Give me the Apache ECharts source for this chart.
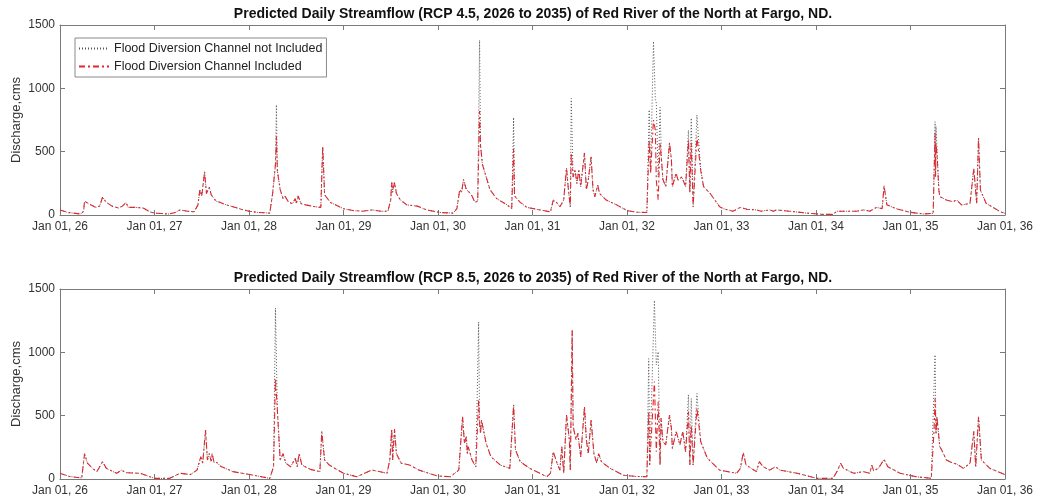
<!DOCTYPE html>
<html>
<head>
<meta charset="utf-8">
<title>Predicted Daily Streamflow</title>
<script src="https://cdn.jsdelivr.net/npm/echarts@6/dist/echarts.min.js"></script>
<style>
  html, body { margin: 0; padding: 0; background: #fff; }
  #chart { width: 1040px; height: 501px; }
</style>
</head>
<body>
<div id="chart"></div>
<script>
// values (decimal year, discharge in cms)
const years45 = [
  2026.00, 2026.08, 2026.22, 2026.25, 2026.26, 2026.30, 2026.38, 2026.42, 2026.45, 2026.49,
  2026.55, 2026.62, 2026.66, 2026.70, 2026.72, 2026.80, 2026.88, 2026.95, 2027.00, 2027.15,
  2027.22, 2027.27, 2027.35, 2027.42, 2027.46, 2027.48, 2027.50, 2027.53, 2027.55, 2027.58,
  2027.60, 2027.63, 2027.65, 2027.69, 2027.76, 2027.83, 2027.92, 2028.00, 2028.10, 2028.22,
  2028.25, 2028.28, 2028.29, 2028.30, 2028.33, 2028.36, 2028.38, 2028.42, 2028.46, 2028.49,
  2028.50, 2028.52, 2028.55, 2028.60, 2028.70, 2028.76, 2028.78, 2028.80, 2028.86, 2028.93,
  2029.00, 2029.10, 2029.20, 2029.30, 2029.40, 2029.47, 2029.50, 2029.51, 2029.52, 2029.54,
  2029.56, 2029.60, 2029.67, 2029.78, 2029.88, 2030.02, 2030.16, 2030.20, 2030.23, 2030.25,
  2030.27, 2030.30, 2030.33, 2030.36, 2030.39, 2030.42, 2030.44, 2030.45, 2030.47, 2030.51,
  2030.55, 2030.62, 2030.73, 2030.78, 2030.80, 2030.81, 2030.87, 2030.94, 2031.08, 2031.19,
  2031.22, 2031.26, 2031.29, 2031.33, 2031.36, 2031.38, 2031.40, 2031.41, 2031.43, 2031.45,
  2031.47, 2031.49, 2031.51, 2031.55, 2031.57, 2031.59, 2031.62, 2031.64, 2031.66, 2031.69,
  2031.71, 2031.78, 2031.89, 2032.00, 2032.10, 2032.21, 2032.225, 2032.235, 2032.25, 2032.28,
  2032.30, 2032.31, 2032.33, 2032.35, 2032.365, 2032.38, 2032.41, 2032.45, 2032.47, 2032.48,
  2032.52, 2032.54, 2032.58, 2032.62, 2032.65, 2032.665, 2032.68, 2032.70, 2032.74, 2032.78,
  2032.81, 2032.88, 2032.98, 2033.02, 2033.12, 2033.20, 2033.27, 2033.37, 2033.42, 2033.51,
  2033.55, 2033.58, 2033.72, 2033.90, 2034.07, 2034.18, 2034.22, 2034.35, 2034.43, 2034.50,
  2034.57, 2034.64, 2034.70, 2034.72, 2034.75, 2034.85, 2034.99, 2035.14, 2035.24, 2035.26,
  2035.265, 2035.27, 2035.28, 2035.30, 2035.31, 2035.38, 2035.45, 2035.49, 2035.54, 2035.63,
  2035.67, 2035.70, 2035.72, 2035.74, 2035.80, 2035.95, 2036.00
];
const included45 = [
  40, 20, 8, 30, 110, 90, 60, 70, 140, 100,
  70, 55, 70, 100, 60, 60, 55, 25, 15, 8,
  20, 40, 30, 25, 80, 200, 150, 340, 170, 220,
  160, 130, 110, 100, 80, 65, 45, 30, 20, 15,
  170, 400, 620, 350, 200, 130, 150, 100, 90, 130,
  90, 150, 90, 80, 65, 60, 540, 160, 100, 75,
  50, 35, 30, 40, 30, 30, 120, 260, 180, 260,
  170, 120, 80, 70, 40, 20, 15, 50, 200, 180,
  280, 200, 180, 150, 100, 110, 820, 550, 400, 300,
  200, 130, 80, 50, 520, 150, 100, 60, 40, 25,
  118, 95, 65, 118, 370, 200, 65, 490, 300, 355,
  250, 355, 225, 490, 200, 275, 460, 200, 145, 235,
  170, 118, 80, 35, 22, 20, 30, 590, 330, 750,
  670, 275, 120, 570, 435, 280, 225, 570, 435, 225,
  330, 275, 300, 225, 590, 175, 570, 65, 620, 355,
  225, 170, 65, 50, 30, 60, 45, 40, 30, 40,
  30, 40, 30, 15, 5, 5, 30, 30, 30, 40,
  30, 60, 50, 230, 80, 50, 22, 8, 13, 645,
  300, 560, 487, 197, 145, 118, 105, 118, 79, 92,
  368, 92, 605, 197, 92, 26, 13
];
// channel not included: same as above except at these flood peaks
const peakYears45 = [2028.29, 2030.44, 2030.80, 2031.41, 2032.235, 2032.28, 2032.30, 2032.31, 2032.33, 2032.35, 2032.65, 2032.68, 2032.74, 2035.26, 2035.27, 2035.28];
const peakNotIncluded45 = [870, 1380, 770, 920, 830, 1370, 910, 885, 300, 850, 670, 765, 790, 737, 700, 710];

const years85 = [
  2026.00, 2026.10, 2026.23, 2026.26, 2026.29, 2026.35, 2026.39, 2026.42, 2026.45, 2026.49,
  2026.60, 2026.65, 2026.70, 2026.85, 2027.00, 2027.16, 2027.27, 2027.38, 2027.45, 2027.49,
  2027.51, 2027.54, 2027.56, 2027.58, 2027.60, 2027.61, 2027.63, 2027.66, 2027.70, 2027.83,
  2028.01, 2028.22, 2028.26, 2028.28, 2028.30, 2028.33, 2028.36, 2028.39, 2028.44, 2028.49,
  2028.51, 2028.53, 2028.56, 2028.65, 2028.75, 2028.77, 2028.80, 2028.85, 2029.00, 2029.14,
  2029.30, 2029.46, 2029.49, 2029.51, 2029.52, 2029.54, 2029.56, 2029.61, 2029.70, 2029.80,
  2029.99, 2030.13, 2030.22, 2030.26, 2030.28, 2030.30, 2030.31, 2030.32, 2030.36, 2030.40,
  2030.43, 2030.44, 2030.45, 2030.46, 2030.51, 2030.56, 2030.66, 2030.76, 2030.80, 2030.82,
  2030.87, 2030.97, 2031.08, 2031.15, 2031.19, 2031.22, 2031.26, 2031.29, 2031.31, 2031.33,
  2031.36, 2031.39, 2031.40, 2031.42, 2031.43, 2031.46, 2031.48, 2031.51, 2031.55, 2031.57,
  2031.59, 2031.62, 2031.65, 2031.68, 2031.70, 2031.73, 2031.82, 2031.96, 2032.10, 2032.21,
  2032.23, 2032.24, 2032.29, 2032.31, 2032.33, 2032.35, 2032.36, 2032.38, 2032.41, 2032.45,
  2032.47, 2032.48, 2032.52, 2032.56, 2032.59, 2032.62, 2032.65, 2032.665, 2032.68, 2032.70,
  2032.74, 2032.78, 2032.85, 2032.98, 2033.16, 2033.20, 2033.23, 2033.26, 2033.37, 2033.40,
  2033.44, 2033.51, 2033.57, 2033.62, 2033.80, 2034.01, 2034.18, 2034.23, 2034.26, 2034.29,
  2034.40, 2034.50, 2034.57, 2034.59, 2034.61, 2034.66, 2034.72, 2034.76, 2034.89, 2035.06,
  2035.22, 2035.25, 2035.26, 2035.27, 2035.28, 2035.31, 2035.33, 2035.38, 2035.45, 2035.49,
  2035.56, 2035.63, 2035.67, 2035.69, 2035.72, 2035.75, 2035.84, 2036.00
];
const included85 = [
  45, 20, 8, 200, 125, 80, 58, 97, 137, 84,
  45, 70, 50, 45, 5, 5, 45, 35, 70, 176,
  125, 387, 150, 200, 140, 200, 130, 130, 100, 58,
  35, 5, 97, 795, 545, 150, 200, 125, 97, 163,
  97, 200, 110, 76, 58, 375, 150, 110, 45, 18,
  71, 45, 150, 392, 150, 392, 200, 125, 110, 70,
  24, 18, 70, 492, 280, 335, 200, 255, 150, 97,
  624, 440, 360, 465, 280, 176, 110, 84, 585, 230,
  137, 84, 45, 18, 45, 215, 125, 70, 255, 45,
  505, 310, 70, 1175, 415, 310, 360, 175, 570, 310,
  200, 465, 200, 125, 200, 135, 85, 30, 20, 18,
  530, 110, 770, 215, 610, 110, 480, 295, 270, 505,
  400, 240, 375, 270, 375, 215, 530, 110, 425, 110,
  560, 295, 165, 70, 45, 84, 208, 110, 58, 137,
  97, 70, 97, 70, 45, 5, 5, 70, 125, 84,
  45, 58, 45, 110, 65, 84, 155, 97, 45, 18,
  5, 400, 635, 360, 490, 255, 229, 150, 125, 118,
  84, 125, 375, 97, 492, 150, 84, 35
];
const peakYears85 = [2028.28, 2030.43, 2032.23, 2032.29, 2032.31, 2032.33, 2032.65, 2032.68, 2032.74, 2035.25, 2035.26];
const peakNotIncluded85 = [1350, 1240, 950, 1410, 900, 1005, 665, 635, 675, 755, 980];

const yTicks = [0, 500, 1000, 1500];
const titles = [
  'Predicted Daily Streamflow (RCP 4.5, 2026 to 2035) of Red River of the North at Fargo, ND.',
  'Predicted Daily Streamflow (RCP 8.5, 2026 to 2035) of Red River of the North at Fargo, ND.'
];
const nameNot = 'Flood Diversion Channel not Included';
const nameInc = 'Flood Diversion Channel Included';

function pairs(xs, ys) {
  return xs.map((x, i) => [x, ys[i]]);
}
function withPeaks(xs, ys, px, pv) {
  return xs.map((x, i) => {
    const k = px.indexOf(x);
    return [x, k >= 0 ? pv[k] : ys[i]];
  });
}

const font = 'Liberation Sans, Arial, sans-serif';
const axisColor = '#7a7a7a';
const plotTops = [25, 289];

function xAxisFor(g, pos) {
  return {
    type: 'value', gridIndex: g, position: pos,
    min: 2026, max: 2036, interval: 1,
    axisLine: { show: true, onZero: false, lineStyle: { color: axisColor } },
    axisTick: { show: true, inside: true, length: 5, lineStyle: { color: axisColor } },
    splitLine: { show: false },
    axisLabel: pos === 'bottom' ? {
      show: true, color: '#333', fontSize: 12, margin: 6, fontFamily: font,
      formatter: v => 'Jan 01, ' + String(v).slice(2)
    } : { show: false }
  };
}
function yAxisFor(g, pos) {
  return {
    type: 'value', gridIndex: g, position: pos,
    min: yTicks[0], max: yTicks[yTicks.length - 1], interval: yTicks[1] - yTicks[0],
    name: pos === 'left' ? 'Discharge,cms' : '',
    nameLocation: 'middle', nameGap: 37, nameMoveOverlap: false,
    nameTextStyle: { color: '#333', fontSize: 13, fontFamily: font },
    axisLine: { show: true, lineStyle: { color: axisColor } },
    axisTick: { show: true, inside: true, length: 5, lineStyle: { color: axisColor } },
    splitLine: { show: false },
    axisLabel: pos === 'left' ? {
      show: true, color: '#333', fontSize: 12, margin: 5, fontFamily: font,
      formatter: v => String(v)
    } : { show: false }
  };
}

const chart = echarts.init(document.getElementById('chart'), null, { renderer: 'canvas' });

const sets = [
  { inc: pairs(years45, included45), not: withPeaks(years45, included45, peakYears45, peakNotIncluded45) },
  { inc: pairs(years85, included85), not: withPeaks(years85, included85, peakYears85, peakNotIncluded85) }
];

const series = [];
sets.forEach((s, g) => {
  series.push({
    name: nameNot, type: 'line', xAxisIndex: g, yAxisIndex: g,
    data: s.not, showSymbol: false, symbol: 'none', animation: false,
    itemStyle: { color: '#555' },
    lineStyle: { color: '#555', width: 1, type: [1, 2] }
  });
  series.push({
    name: nameInc, type: 'line', xAxisIndex: g, yAxisIndex: g,
    data: s.inc, showSymbol: false, symbol: 'none', animation: false,
    itemStyle: { color: '#e3262e' },
    lineStyle: { color: '#e3262e', width: 1.1, type: [6, 3, 2, 3] }
  });
});

const option = {
  backgroundColor: '#fff',
  animation: false,
  title: titles.map((t, g) => ({
    text: t, left: 533, top: plotTops[g] - 18, textAlign: 'center', padding: 0,
    textStyle: { fontSize: 14, fontWeight: 'bold', color: '#111', fontFamily: font }
  })),
  legend: {
    left: 75, top: 38, orient: 'vertical',
    data: [nameNot, nameInc],
    backgroundColor: '#fff', borderColor: '#8a8a8a', borderWidth: 1,
    padding: [4, 4, 4, 3], itemGap: 5, itemWidth: 30, itemHeight: 12,
    itemStyle: { opacity: 0 },
    textStyle: { color: '#222', fontSize: 12.5, fontFamily: font }
  },
  grid: plotTops.map(t => ({ left: 60, right: 35, top: t, height: 190, containLabel: false, outerBoundsMode: 'none' })),
  xAxis: [xAxisFor(0, 'bottom'), xAxisFor(1, 'bottom'), xAxisFor(0, 'top'), xAxisFor(1, 'top')],
  yAxis: [yAxisFor(0, 'left'), yAxisFor(1, 'left'), yAxisFor(0, 'right'), yAxisFor(1, 'right')],
  series: series
};

option && chart.setOption(option);
window.addEventListener('resize', function () {
  chart.resize();
});
</script>
</body>
</html>
